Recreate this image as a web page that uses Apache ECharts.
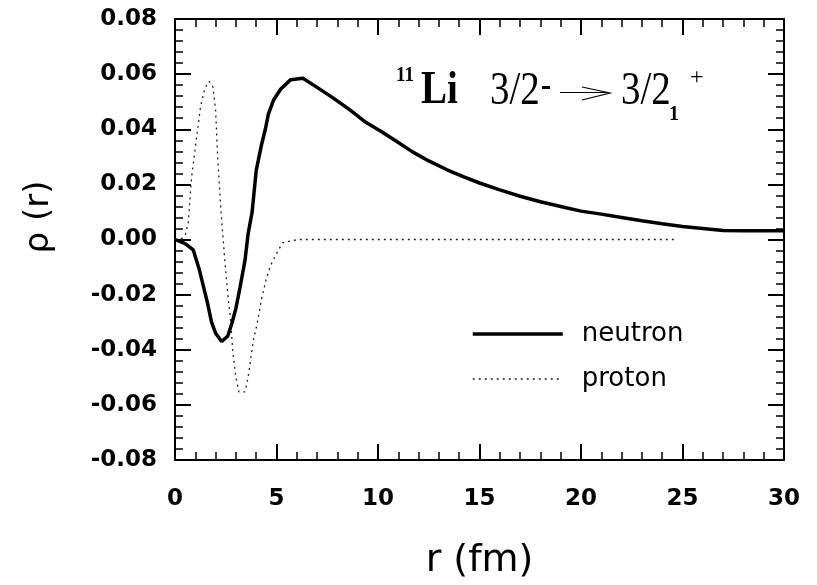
<!DOCTYPE html>
<html>
<head>
<meta charset="utf-8">
<script src="https://cdn.jsdelivr.net/npm/echarts@6/dist/echarts.min.js"></script>
<style>html,body{margin:0;padding:0;background:#fff}#c{width:817px;height:585px}</style>
</head>
<body>
<div id="c"></div>
<script>
// ---- data ----
const rNeutron = [0, 0.5, 0.9, 1.2, 1.4, 1.6, 1.8, 2.0, 2.3, 2.6, 2.8, 3.0, 3.2, 3.45, 3.6, 3.8, 4.0, 4.25, 4.45, 4.6, 4.85, 5.2, 5.7, 6.3, 7.0, 7.8, 8.6, 9.4, 10.2, 11.0, 11.7, 12.5, 13.4, 14.2, 15.0, 16.0, 17.0, 18.0, 19.0, 20.0, 21.0, 22.0, 23.0, 24.0, 25.0, 26.0, 27.0, 28.0, 30.0];
const neutron = [0, -0.0015, -0.0038, -0.0110, -0.0170, -0.0230, -0.0300, -0.0340, -0.0370, -0.0350, -0.0305, -0.0250, -0.0175, -0.0075, 0.0020, 0.0100, 0.0250, 0.0340, 0.0400, 0.0455, 0.0505, 0.0545, 0.0580, 0.0585, 0.0552, 0.0513, 0.0471, 0.0425, 0.0390, 0.0352, 0.0318, 0.0285, 0.0253, 0.0228, 0.0205, 0.0180, 0.0157, 0.0137, 0.0120, 0.0103, 0.0092, 0.0080, 0.0068, 0.0057, 0.0047, 0.0040, 0.0033, 0.0032, 0.0032];
const rProton = [0, 0.3, 0.5, 0.65, 0.82, 1.03, 1.26, 1.48, 1.68, 1.86, 2.0, 2.1, 2.25, 2.35, 2.46, 2.6, 2.75, 2.85, 3.0, 3.15, 3.45, 3.6, 3.7, 3.86, 4.05, 4.27, 4.48, 4.68, 4.88, 5.1, 5.3, 5.7, 6.1, 10, 15, 20, 24.7];
const proton = [0, 0.0002, 0.0015, 0.0060, 0.0228, 0.0350, 0.0483, 0.0550, 0.0574, 0.0556, 0.0471, 0.0300, 0.0120, 0.0020, -0.0080, -0.0200, -0.0300, -0.0410, -0.0500, -0.0553, -0.0553, -0.0500, -0.0450, -0.0365, -0.0305, -0.0214, -0.0147, -0.0099, -0.0068, -0.0038, -0.0012, -0.0005, 0, 0, 0, 0, 0];
const xTicks = [0, 5, 10, 15, 20, 25, 30];
const yTicks = [-0.08, -0.06, -0.04, -0.02, 0.00, 0.02, 0.04, 0.06, 0.08];
const seriesNames = ['neutron', 'proton'];
const xTitle = 'r (fm)';
const yTitle = 'ρ (r)';

const chart = echarts.init(document.getElementById('c'), null, {renderer: 'canvas'});
const labelFont = {fontFamily: 'DejaVu Sans', fontWeight: 'bold', fontSize: 23, color: '#000'};
function axisCommon(show) {
  return {
    axisLine: {show: true, onZero: false, lineStyle: {color: '#000', width: 2}},
    axisTick: {show: true, inside: true, length: 16, lineStyle: {color: '#000', width: 2}},
    minorTick: {show: true, splitNumber: 5, length: 8, lineStyle: {color: '#000', width: 1.5}},
    splitLine: {show: false},
    minorSplitLine: {show: false},
    axisLabel: show ? Object.assign({}, labelFont) : {show: false}
  };
}
const xMin = xTicks[0], xMax = xTicks[xTicks.length - 1], xInt = xTicks[1] - xTicks[0];
const yMin = yTicks[0], yMax = yTicks[yTicks.length - 1], yInt = 0.02;

function serifText(txt, x, baseline, size, bold, sy) {
  return {
    type: 'text', x: x, y: baseline, scaleY: sy || 1,
    style: {text: txt, x: 0, y: -0.3375 * size, font: (bold ? 'bold ' : '') + size + 'px "Liberation Serif"', fill: '#000', align: 'left', verticalAlign: 'middle'}
  };
}

const option = {
  backgroundColor: '#fff',
  animation: false,
  grid: {left: 175, top: 19, width: 609, height: 441, containLabel: false},
  xAxis: [
    Object.assign({type: 'value', min: xMin, max: xMax, interval: xInt, position: 'bottom',
      name: xTitle, nameLocation: 'middle', nameGap: 82,
      nameTextStyle: {fontFamily: 'DejaVu Sans', fontSize: 38, color: '#000'}}, axisCommon(true),
      {axisLabel: Object.assign({}, labelFont, {margin: 28})}),
    Object.assign({type: 'value', min: xMin, max: xMax, interval: xInt, position: 'top'}, axisCommon(false))
  ],
  yAxis: [
    Object.assign({type: 'value', min: yMin, max: yMax, interval: yInt, position: 'left'}, axisCommon(true),
      {axisLabel: Object.assign({}, labelFont, {margin: 18, formatter: v => v.toFixed(2)})}),
    Object.assign({type: 'value', min: yMin, max: yMax, interval: yInt, position: 'right'}, axisCommon(false))
  ],
  legend: {
    data: [
      {name: seriesNames[0], lineStyle: {width: 3.5}},
      {name: seriesNames[1], lineStyle: {width: 1.3}}
    ],
    orient: 'vertical', left: 466, top: 316,
    itemWidth: 90, itemHeight: 16, itemGap: 19,
    itemStyle: {opacity: 0},
    textStyle: {fontFamily: 'DejaVu Sans', fontSize: 26, color: '#000', padding: [0, 0, 0, 14]}
  },
  series: [
    {name: seriesNames[0], type: 'line', xAxisIndex: 0, yAxisIndex: 0, symbol: 'none',
      data: rNeutron.map((r, i) => [r, neutron[i]]),
      lineStyle: {color: '#000', width: 3.5}, itemStyle: {color: '#000'}},
    {name: seriesNames[1], type: 'line', xAxisIndex: 0, yAxisIndex: 0, symbol: 'none',
      data: rProton.map((r, i) => [r, proton[i]]),
      lineStyle: {color: '#222', width: 1.3, type: [2, 4]}, itemStyle: {color: '#222'}}
  ],
  graphic: [
    {type: 'text', x: 39, y: 217, rotation: Math.PI / 2,
      style: {text: yTitle, font: '34px "DejaVu Sans"', fill: '#000', align: 'center', verticalAlign: 'middle'}},
    serifText('11', 396, 83, 19, true, 1.1),
    serifText('Li', 421, 107, 39, true, 1.2),
    serifText('3/2', 490, 107, 39, false, 1.2),
    {type: 'rect', shape: {x: 542, y: 86, width: 8, height: 3}, style: {fill: '#000'}},
    {type: 'line', shape: {x1: 560, y1: 92.5, x2: 608, y2: 92.5}, style: {stroke: '#000', lineWidth: 1.2}},
    {type: 'polyline', shape: {points: [[582, 87], [610, 93], [582, 100]]}, style: {stroke: '#000', lineWidth: 1.2, fill: null}},
    serifText('3/2', 621, 107, 39, false, 1.2),
    serifText('1', 669, 122, 20, true, 1.1),
    serifText('+', 690, 86, 24, false, 1)
  ]
};
chart.setOption(option);
</script>
</body>
</html>
